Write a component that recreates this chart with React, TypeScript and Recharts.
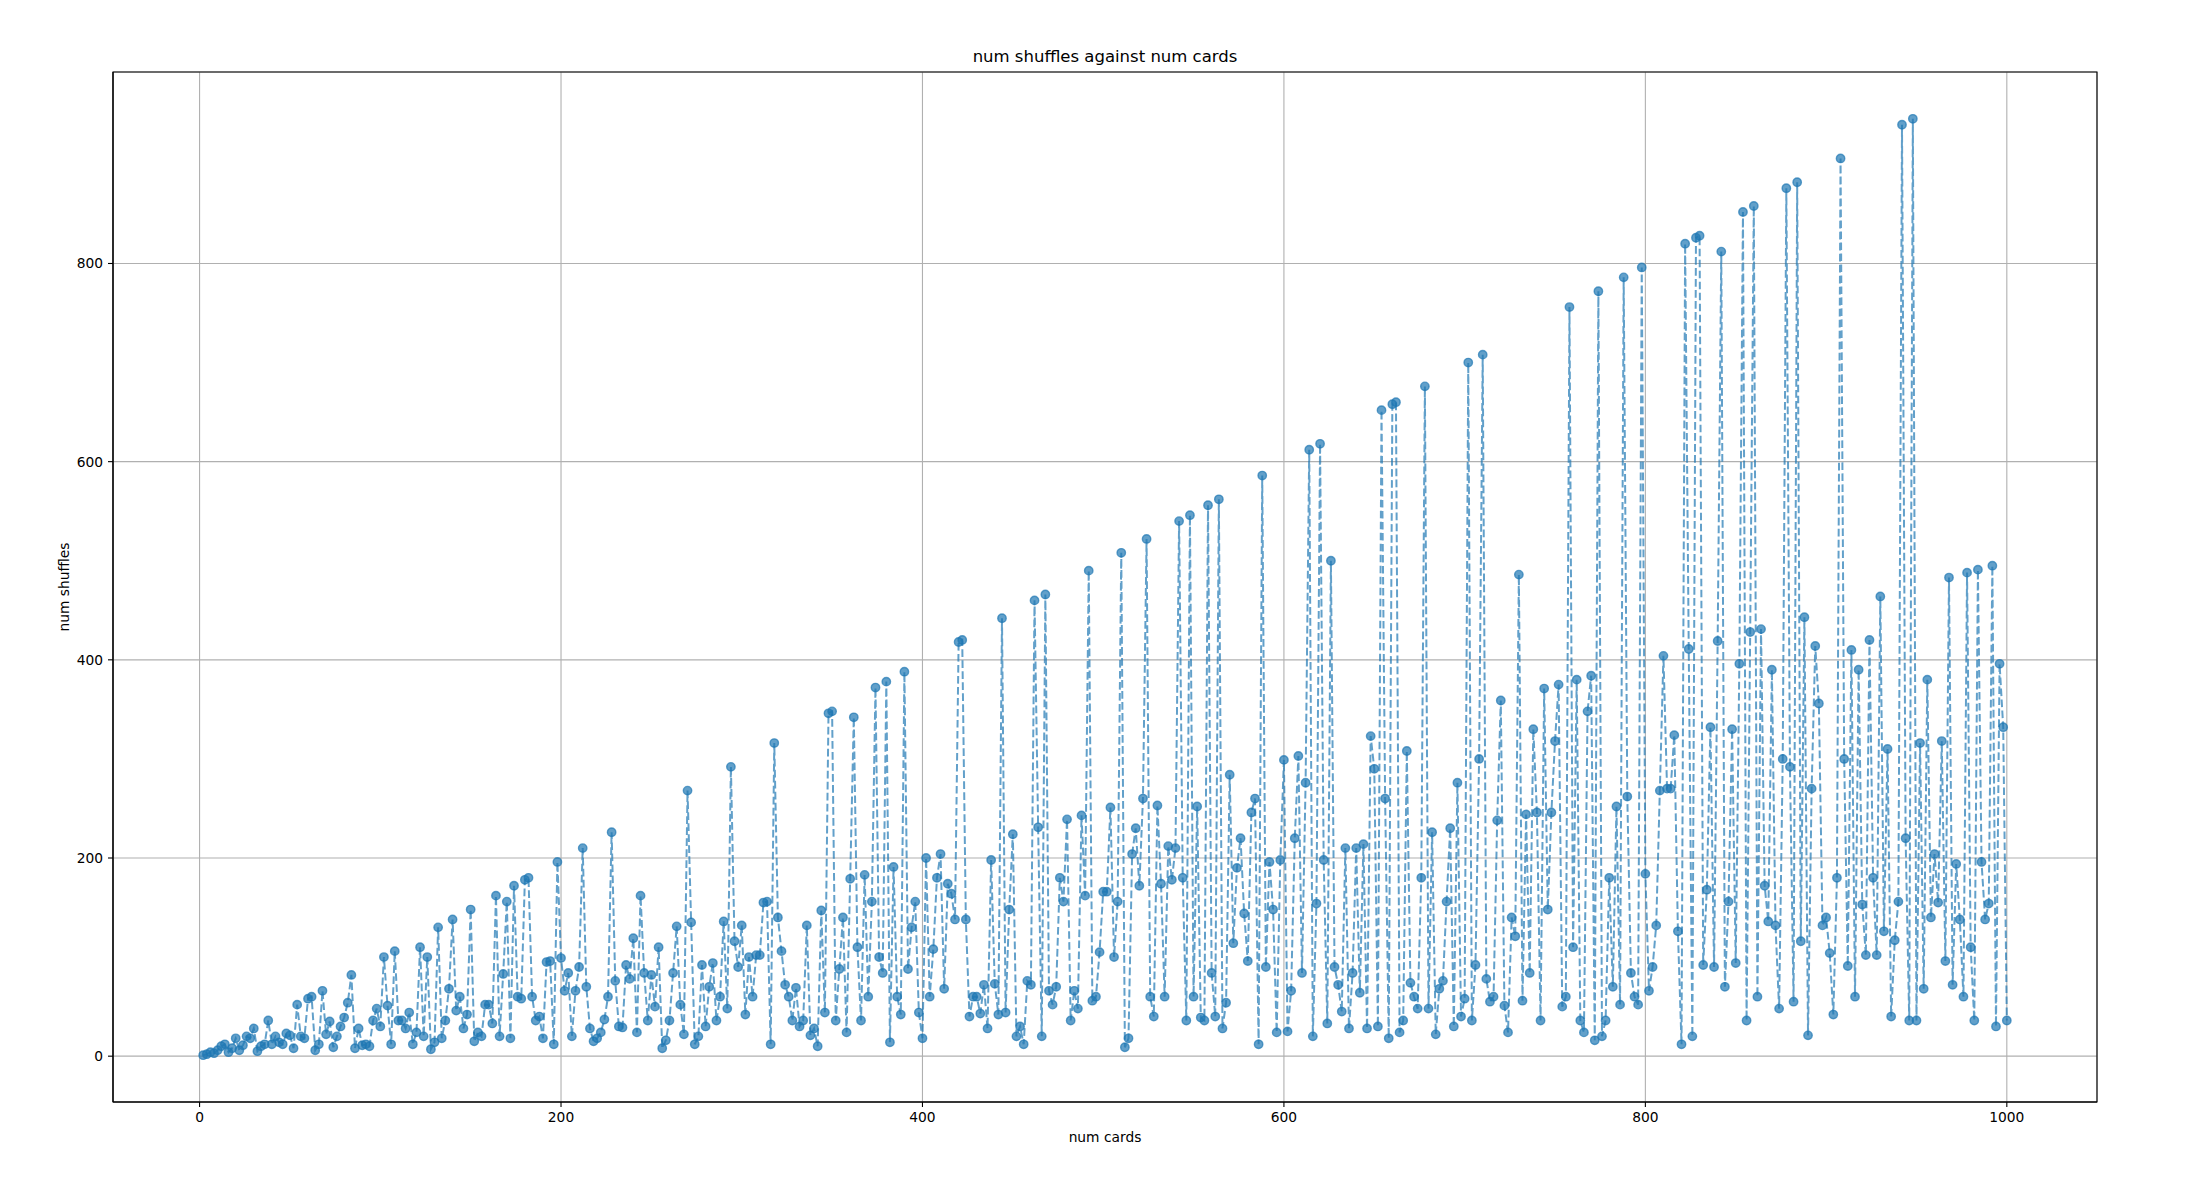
import React from "react";
import {
  LineChart,
  Line,
  XAxis,
  YAxis,
  CartesianGrid,
  ReferenceArea,
} from "recharts";

// shuffles needed, read in runs of 20 decks (deck sizes go up by 2)
const shufflesFrom2 = [1, 2, 4, 3, 6, 10, 12, 4, 8, 18, 6, 11, 20, 18, 28, 5, 10, 12, 36, 12];
const shufflesFrom42 = [20, 14, 12, 23, 21, 8, 52, 20, 18, 58, 60, 6, 12, 66, 22, 35, 9, 20, 30, 39];
const shufflesFrom82 = [54, 82, 8, 28, 11, 12, 10, 36, 48, 30, 100, 51, 12, 106, 36, 36, 28, 44, 12, 24];
const shufflesFrom122 = [110, 20, 100, 7, 14, 130, 18, 36, 68, 138, 46, 60, 28, 42, 148, 15, 24, 20, 52, 52];
const shufflesFrom162 = [33, 162, 20, 83, 156, 18, 172, 60, 58, 178, 180, 60, 36, 40, 18, 95, 96, 12, 196, 99];
const shufflesFrom202 = [66, 84, 20, 66, 90, 210, 70, 28, 15, 18, 24, 37, 60, 226, 76, 30, 29, 92, 78, 119];
const shufflesFrom242 = [24, 162, 84, 36, 82, 50, 110, 8, 16, 36, 84, 131, 52, 22, 268, 135, 12, 20, 92, 30];
const shufflesFrom282 = [70, 94, 36, 60, 136, 48, 292, 116, 90, 132, 42, 100, 60, 102, 102, 155, 156, 12, 316, 140];
const shufflesFrom322 = [106, 72, 60, 36, 69, 30, 36, 132, 21, 28, 10, 147, 44, 346, 348, 36, 88, 140, 24, 179];
const shufflesFrom362 = [342, 110, 36, 183, 60, 156, 372, 100, 84, 378, 14, 191, 60, 42, 388, 88, 130, 156, 44, 18];
const shufflesFrom402 = [200, 60, 108, 180, 204, 68, 174, 164, 138, 418, 420, 138, 40, 60, 60, 43, 72, 28, 198, 73];
const shufflesFrom442 = [42, 442, 44, 148, 224, 20, 30, 12, 76, 72, 460, 231, 20, 466, 66, 52, 70, 180, 156, 239];
const shufflesFrom482 = [36, 66, 48, 243, 162, 490, 56, 60, 105, 166, 166, 251, 100, 156, 508, 9, 18, 204, 230, 172];
const shufflesFrom522 = [260, 522, 60, 40, 253, 174, 60, 212, 178, 210, 540, 180, 36, 546, 60, 252, 39, 36, 556, 84];
const shufflesFrom562 = [40, 562, 28, 54, 284, 114, 190, 220, 144, 96, 246, 260, 12, 586, 90, 196, 148, 24, 198, 299];
const shufflesFrom602 = [25, 66, 220, 303, 84, 276, 612, 20, 154, 618, 198, 33, 500, 90, 72, 45, 210, 28, 84, 210];
const shufflesFrom642 = [64, 214, 28, 323, 290, 30, 652, 260, 18, 658, 660, 24, 36, 308, 74, 60, 48, 180, 676, 48];
const shufflesFrom682 = [226, 22, 68, 76, 156, 230, 30, 276, 40, 58, 700, 36, 92, 300, 708, 78, 55, 60, 238, 359];
const shufflesFrom722 = [51, 24, 140, 121, 486, 56, 244, 84, 330, 246, 36, 371, 148, 246, 318, 375, 50, 60, 756, 110];
const shufflesFrom762 = [380, 36, 24, 348, 384, 16, 772, 20, 36, 180, 70, 252, 52, 786, 262, 84, 60, 52, 796, 184];
const shufflesFrom802 = [66, 90, 132, 268, 404, 270, 270, 324, 126, 12, 820, 411, 20, 826, 828, 92, 168, 332, 90, 419];
const shufflesFrom842 = [812, 70, 156, 330, 94, 396, 852, 36, 428, 858, 60, 431, 172, 136, 390, 132, 48, 300, 876, 292];
const shufflesFrom882 = [55, 882, 116, 443, 21, 270, 414, 356, 132, 140, 104, 42, 180, 906, 300, 91, 410, 60, 390, 153];
const shufflesFrom922 = [102, 420, 180, 102, 464, 126, 310, 40, 117, 156, 940, 220, 36, 946, 36, 316, 68, 380, 140, 204];
const shufflesFrom962 = [155, 318, 96, 483, 72, 194, 138, 60, 488, 110, 36, 491, 196, 138, 154, 495, 30, 396, 332, 36];

const shuffleRows: [number, number[]][] = [
  [2, shufflesFrom2],
  [42, shufflesFrom42],
  [82, shufflesFrom82],
  [122, shufflesFrom122],
  [162, shufflesFrom162],
  [202, shufflesFrom202],
  [242, shufflesFrom242],
  [282, shufflesFrom282],
  [322, shufflesFrom322],
  [362, shufflesFrom362],
  [402, shufflesFrom402],
  [442, shufflesFrom442],
  [482, shufflesFrom482],
  [522, shufflesFrom522],
  [562, shufflesFrom562],
  [602, shufflesFrom602],
  [642, shufflesFrom642],
  [682, shufflesFrom682],
  [722, shufflesFrom722],
  [762, shufflesFrom762],
  [802, shufflesFrom802],
  [842, shufflesFrom842],
  [882, shufflesFrom882],
  [922, shufflesFrom922],
  [962, shufflesFrom962],
];

const xTicks = [0, 200, 400, 600, 800, 1000];
const yTicks = [0, 200, 400, 600, 800];

const data = shuffleRows.flatMap(([start, vals]) =>
  vals.map((v, i) => ({ cards: start + 2 * i, shuffles: v }))
);

const FONT = "DejaVu Sans";
const X_DOMAIN: [number, number] = [-47.9, 1049.9];
const Y_DOMAIN: [number, number] = [-46.25, 993.25];
const tickStyle = { fill: "#000", fontSize: 13.8, fontFamily: FONT };

export default function App() {
  return (
    <div style={{ position: "absolute", left: 0, top: 0, width: 2187, height: 1200, background: "#fff" }}>
      <div
        style={{
          position: "absolute",
          left: 113,
          top: 47,
          width: 1984,
          textAlign: "center",
          fontFamily: FONT,
          fontSize: 16.5,
          lineHeight: "20px",
          color: "#000",
        }}
      >
        num shuffles against num cards
      </div>
      <LineChart
        width={2187}
        height={1200}
        data={data}
        margin={{ top: 72, right: 90, bottom: 0, left: 0 }}
      >
        <CartesianGrid stroke="#b0b0b0" strokeWidth={1.1} />
        <XAxis
          type="number"
          dataKey="cards"
          domain={X_DOMAIN}
          ticks={xTicks}
          allowDataOverflow
          height={98}
          tickSize={5}
          tickMargin={5}
          tick={tickStyle}
          axisLine={{ stroke: "#000", strokeWidth: 1.1 }}
          tickLine={{ stroke: "#000", strokeWidth: 1.1 }}
        />
        <YAxis
          type="number"
          domain={Y_DOMAIN}
          ticks={yTicks}
          allowDataOverflow
          width={113}
          tickSize={5}
          tickMargin={5}
          tick={tickStyle}
          axisLine={{ stroke: "#000", strokeWidth: 1.1 }}
          tickLine={{ stroke: "#000", strokeWidth: 1.1 }}
        />
        <ReferenceArea
          x1={X_DOMAIN[0]}
          x2={X_DOMAIN[1]}
          y1={Y_DOMAIN[0]}
          y2={Y_DOMAIN[1]}
          fill="none"
          stroke="#000"
          strokeWidth={1.1}
          ifOverflow="visible"
        />
        <Line
          type="linear"
          dataKey="shuffles"
          stroke="#1f77b4"
          strokeOpacity={0.7}
          strokeWidth={2}
          strokeDasharray="7.7 3.3"
          dot={{
            r: 4.2,
            fill: "#1f77b4",
            fillOpacity: 0.7,
            stroke: "#1f77b4",
            strokeOpacity: 0.7,
            strokeWidth: 1.4,
            strokeDasharray: "none",
          }}
          activeDot={false}
          isAnimationActive={false}
        />
      </LineChart>
      <div
        style={{
          position: "absolute",
          left: 113,
          top: 1129,
          width: 1984,
          textAlign: "center",
          fontFamily: FONT,
          fontSize: 13.8,
          lineHeight: "16px",
          color: "#000",
        }}
      >
        num cards
      </div>
      <div
        style={{
          position: "absolute",
          left: 63.5 - 200,
          top: 587 - 8,
          width: 400,
          height: 16,
          textAlign: "center",
          fontFamily: FONT,
          fontSize: 13.8,
          lineHeight: "16px",
          color: "#000",
          transform: "rotate(-90deg)",
        }}
      >
        num shuffles
      </div>
    </div>
  );
}
